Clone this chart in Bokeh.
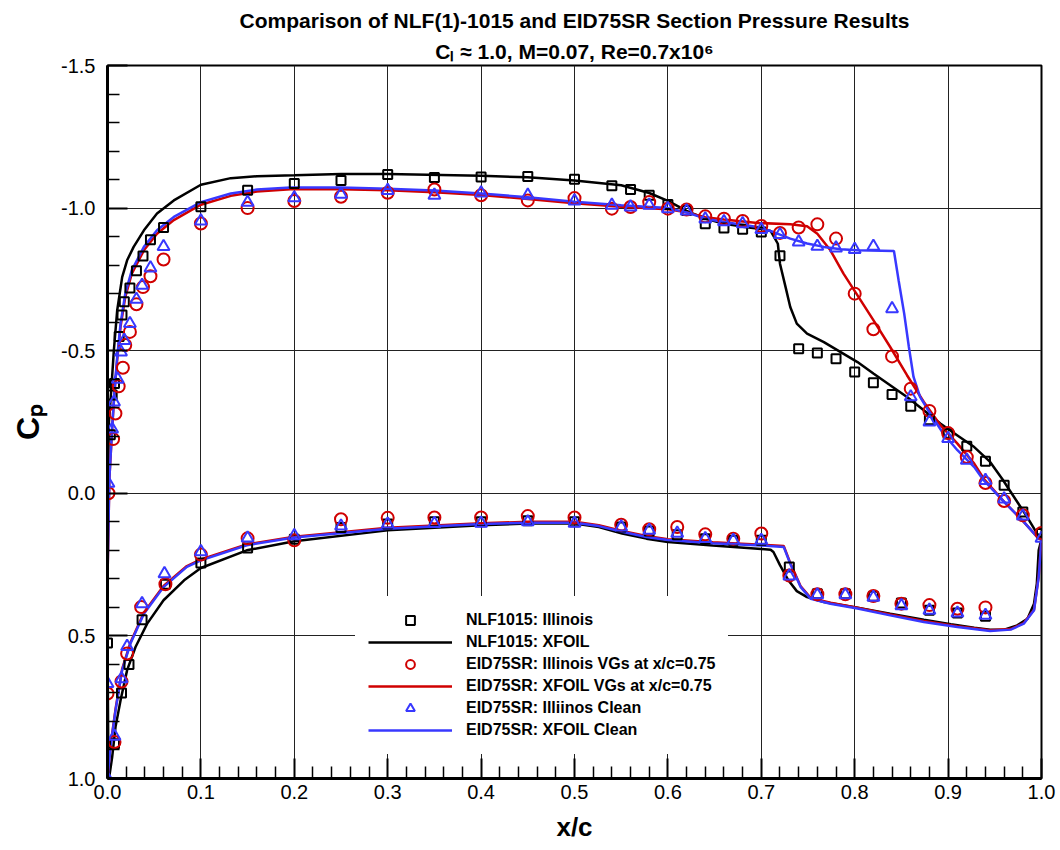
from bokeh.plotting import figure
from bokeh.models import (Range1d, FixedTicker, PrintfTickFormatter, Legend,
                          LegendItem, Title)
from bokeh.embed import file_html
from bokeh.resources import INLINE

FONT = "Liberation Sans"
BLACK = "#000000"
RED = "#d00000"
BLUE = "#3838ff"

# ---------------- tick definitions ----------------
x_ticks = [0.0, 0.1, 0.2, 0.3, 0.4, 0.5, 0.6, 0.7, 0.8, 0.9, 1.0]
x_minor = [0.02, 0.04, 0.06, 0.08, 0.12, 0.14, 0.16, 0.18, 0.22, 0.24, 0.26, 0.28,
           0.32, 0.34, 0.36, 0.38, 0.42, 0.44, 0.46, 0.48, 0.52, 0.54, 0.56, 0.58,
           0.62, 0.64, 0.66, 0.68, 0.72, 0.74, 0.76, 0.78, 0.82, 0.84, 0.86, 0.88,
           0.92, 0.94, 0.96, 0.98]
y_ticks = [-1.5, -1.0, -0.5, 0.0, 0.5, 1.0]
y_minor = [-1.4, -1.3, -1.2, -1.1, -0.9, -0.8, -0.7, -0.6, -0.4, -0.3, -0.2, -0.1,
           0.1, 0.2, 0.3, 0.4, 0.6, 0.7, 0.8, 0.9]

# ---------------- experimental data ----------------
nlf_exp_x = [0.003, 0.005, 0.0075, 0.0125, 0.0155, 0.018, 0.024, 0.031, 0.038, 0.046, 0.06,
             0.10, 0.15, 0.20, 0.25, 0.30, 0.35, 0.40, 0.45, 0.50, 0.54, 0.56, 0.58, 0.60,
             0.62, 0.64, 0.66, 0.68, 0.70, 0.72, 0.74, 0.76, 0.78, 0.80, 0.82, 0.84, 0.86,
             0.88, 0.90, 0.92, 0.94, 0.96, 0.98, 1.0,
             0.0, 0.0075, 0.015, 0.023, 0.037, 0.062, 0.10, 0.15, 0.20, 0.25, 0.30, 0.35,
             0.40, 0.45, 0.50, 0.55, 0.58, 0.61, 0.64, 0.67, 0.70, 0.73, 0.76, 0.79, 0.82,
             0.85, 0.88, 0.91, 0.94]
nlf_exp_cp = [-0.205, -0.345, -0.385, -0.55, -0.625, -0.672, -0.72, -0.78, -0.832, -0.889, -0.932,
              -1.005, -1.063, -1.086, -1.097, -1.118, -1.107, -1.109, -1.111, -1.101, -1.078, -1.065,
              -1.045, -1.013, -0.992, -0.945, -0.93, -0.926, -0.916, -0.833, -0.507, -0.492,
              -0.472, -0.425, -0.388, -0.346, -0.305, -0.258, -0.209, -0.165, -0.112, -0.028,
              0.066, 0.141,
              0.525, 0.878, 0.70, 0.60, 0.443, 0.319, 0.244, 0.192, 0.161, 0.12, 0.108, 0.10,
              0.10, 0.096, 0.10, 0.118, 0.132, 0.145, 0.159, 0.165, 0.165, 0.258, 0.352, 0.352,
              0.361, 0.385, 0.41, 0.42, 0.431]

vg_exp_x = [0.001, 0.006, 0.0085, 0.012, 0.0165, 0.019, 0.024, 0.031, 0.038, 0.046, 0.06,
            0.10, 0.15, 0.20, 0.25, 0.30, 0.35, 0.40, 0.45, 0.50, 0.54, 0.56, 0.58, 0.60,
            0.62, 0.64, 0.66, 0.68, 0.70, 0.72, 0.74, 0.76, 0.78, 0.80, 0.82, 0.84, 0.86,
            0.88, 0.90, 0.92, 0.94, 0.96, 0.98, 1.0,
            0.0, 0.0075, 0.015, 0.021, 0.036, 0.062, 0.10, 0.15, 0.20, 0.25, 0.30, 0.35,
            0.40, 0.45, 0.50, 0.55, 0.58, 0.61, 0.64, 0.67, 0.70, 0.73, 0.76, 0.79, 0.82,
            0.85, 0.88, 0.91, 0.94]
vg_exp_cp = [0.0, -0.19, -0.28, -0.375, -0.44, -0.52, -0.566, -0.663, -0.723, -0.761, -0.82,
             -0.946, -1.0, -1.025, -1.04, -1.054, -1.065, -1.045, -1.027, -1.035, -0.998, -1.004,
             -1.021, -0.998, -0.995, -0.971, -0.963, -0.955, -0.937, -0.913, -0.932, -0.943,
             -0.893, -0.70, -0.575, -0.48, -0.367, -0.289, -0.211, -0.127, -0.036, 0.027,
             0.077, 0.139,
             0.702, 0.872, 0.66, 0.562, 0.399, 0.319, 0.215, 0.158, 0.165, 0.091, 0.086, 0.085,
             0.085, 0.08, 0.085, 0.11, 0.126, 0.118, 0.144, 0.159, 0.141, 0.288, 0.354, 0.354,
             0.36, 0.387, 0.392, 0.405, 0.40]

clean_exp_x = [0.001, 0.005, 0.007, 0.011, 0.0145, 0.018, 0.024, 0.031, 0.037, 0.046, 0.06,
               0.10, 0.15, 0.20, 0.25, 0.30, 0.35, 0.40, 0.45, 0.50, 0.54, 0.56, 0.58, 0.60,
               0.62, 0.64, 0.66, 0.68, 0.70, 0.72, 0.74, 0.76, 0.78, 0.80, 0.82, 0.84, 0.86,
               0.88, 0.90, 0.92, 0.94, 0.96, 0.98, 1.0,
               0.0, 0.0, 0.0075, 0.015, 0.021, 0.037, 0.061, 0.10, 0.15, 0.20, 0.25, 0.30, 0.35,
               0.40, 0.45, 0.50, 0.55, 0.58, 0.61, 0.64, 0.67, 0.70, 0.73, 0.76, 0.79, 0.82,
               0.85, 0.88, 0.91, 0.94]
clean_exp_cp = [-0.035, -0.225, -0.32, -0.40, -0.495, -0.536, -0.595, -0.68, -0.729, -0.79, -0.865,
                -0.955, -1.02, -1.036, -1.048, -1.062, -1.045, -1.053, -1.045, -1.025, -1.01, -1.004,
                -1.01, -0.998, -0.99, -0.962, -0.952, -0.945, -0.925, -0.907, -0.881, -0.866,
                -0.86, -0.855, -0.866, -0.647, -0.338, -0.25, -0.192, -0.116, -0.045, 0.02,
                0.08, 0.158,
                1.0, 0.667, 0.852, 0.65, 0.537, 0.387, 0.282, 0.205, 0.157, 0.149, 0.115, 0.108,
                0.106, 0.105, 0.10, 0.105, 0.118, 0.13, 0.14, 0.159, 0.165, 0.165, 0.29, 0.356,
                0.356, 0.365, 0.394, 0.41, 0.42, 0.428]

# ---------------- XFOIL curves (TE upper -> LE -> TE lower) ----------------
nlf_xfoil_x = [1.0, 0.995, 0.985, 0.975, 0.958, 0.945, 0.928, 0.91, 0.892, 0.874, 0.856,
               0.838, 0.82, 0.803, 0.785, 0.767, 0.749, 0.738, 0.731, 0.726, 0.72, 0.7177,
               0.71, 0.70, 0.68, 0.66, 0.64, 0.62, 0.60, 0.58, 0.55, 0.50, 0.45, 0.40, 0.30,
               0.25, 0.20, 0.16, 0.132, 0.10, 0.071, 0.053, 0.039, 0.028, 0.021, 0.0157,
               0.0104, 0.0068, 0.004, 0.0014, 0.0004, 0.0, 0.0008, 0.0016,
               0.005, 0.0086, 0.014, 0.021, 0.03, 0.0425, 0.06, 0.082, 0.10, 0.149, 0.2,
               0.3, 0.4, 0.45, 0.5, 0.526, 0.551, 0.577, 0.6, 0.648, 0.70, 0.71, 0.713,
               0.72, 0.729, 0.738, 0.749, 0.767, 0.803, 0.838, 0.874, 0.903, 0.928, 0.945,
               0.96, 0.974, 0.985, 0.992, 0.995, 0.997, 1.0]
nlf_xfoil_cp = [0.16, 0.14, 0.085, 0.035, -0.05, -0.11, -0.162, -0.203, -0.244, -0.291, -0.338,
                -0.379, -0.42, -0.46, -0.495, -0.53, -0.56, -0.595, -0.653, -0.723, -0.805, -0.875,
                -0.92, -0.927, -0.935, -0.945, -0.963, -0.99, -1.025, -1.053, -1.08, -1.097,
                -1.108, -1.113, -1.12, -1.12, -1.115, -1.112, -1.105, -1.082, -1.027, -0.981,
                -0.922, -0.864, -0.817, -0.758, -0.642, -0.501, -0.361, -0.244, 0.0, 0.5, 0.9,
                1.0,
                0.925, 0.819, 0.726, 0.62, 0.539, 0.457, 0.375, 0.305, 0.262, 0.2, 0.168,
                0.13, 0.112, 0.106, 0.106, 0.118, 0.141, 0.159, 0.171, 0.183, 0.195, 0.198,
                0.206, 0.252, 0.305, 0.343, 0.364, 0.381, 0.401, 0.422, 0.443, 0.459, 0.471,
                0.478, 0.478, 0.463, 0.44, 0.387, 0.317, 0.2, 0.16]

clean_xfoil_x = [1.0, 0.997, 0.981, 0.96, 0.938, 0.928, 0.91, 0.895, 0.881, 0.87, 0.863,
                 0.858, 0.853, 0.847, 0.842, 0.803, 0.785, 0.767, 0.749, 0.731, 0.713, 0.696,
                 0.66, 0.64, 0.62, 0.60, 0.55, 0.50, 0.45, 0.40, 0.35, 0.30, 0.25, 0.196,
                 0.16, 0.132, 0.10, 0.071, 0.053, 0.039, 0.026, 0.019, 0.014, 0.0104, 0.0075,
                 0.005, 0.002, 0.0, 0.0, 0.0,
                 0.0032, 0.0086, 0.0157, 0.0246, 0.039, 0.06, 0.085, 0.10, 0.149, 0.2, 0.3,
                 0.4, 0.45, 0.5, 0.526, 0.551, 0.577, 0.6, 0.648, 0.70, 0.724, 0.731, 0.742,
                 0.753, 0.774, 0.803, 0.838, 0.874, 0.91, 0.945, 0.967, 0.981, 0.992, 0.997,
                 1.0]
clean_xfoil_cp = [0.16, 0.159, 0.10, 0.03, -0.046, -0.092, -0.151, -0.209, -0.279, -0.338, -0.408,
                  -0.513, -0.63, -0.747, -0.85, -0.852, -0.856, -0.864, -0.876, -0.893, -0.916,
                  -0.934, -0.951, -0.963, -0.985, -1.0, -1.01, -1.022, -1.038, -1.051, -1.062,
                  -1.068, -1.072, -1.072, -1.065, -1.051, -1.021, -0.969, -0.922, -0.864, -0.782,
                  -0.70, -0.595, -0.478, -0.361, -0.233, -0.05, 0.3, 0.7, 1.0,
                  0.89, 0.761, 0.62, 0.527, 0.422, 0.329, 0.258, 0.235, 0.182, 0.155, 0.124,
                  0.108, 0.103, 0.103, 0.115, 0.135, 0.153, 0.164, 0.175, 0.183, 0.188, 0.247,
                  0.328, 0.37, 0.387, 0.404, 0.428, 0.451, 0.469, 0.483, 0.478, 0.457, 0.41,
                  0.293, 0.16]

vg_xfoil_x = [1.0, 0.997, 0.981, 0.96, 0.938, 0.928, 0.91, 0.892, 0.874, 0.856, 0.838,
              0.82, 0.803, 0.788, 0.774, 0.76, 0.749, 0.731, 0.696, 0.66, 0.64, 0.62, 0.60,
              0.55, 0.50, 0.45, 0.40, 0.35, 0.30, 0.25, 0.196, 0.16, 0.132, 0.10, 0.071,
              0.053, 0.039, 0.026, 0.019, 0.014, 0.0104, 0.0075, 0.005, 0.002, 0.0, 0.0, 0.0,
              0.0032, 0.0086, 0.0157, 0.0246, 0.039, 0.06, 0.085, 0.10, 0.149, 0.2, 0.3,
              0.4, 0.45, 0.5, 0.526, 0.551, 0.577, 0.6, 0.648, 0.70, 0.724, 0.731, 0.742,
              0.753, 0.774, 0.803, 0.838, 0.874, 0.91, 0.945, 0.967, 0.981, 0.992, 0.997,
              1.0]
vg_xfoil_cp = [0.16, 0.159, 0.10, 0.03, -0.052, -0.104, -0.174, -0.238, -0.32, -0.414, -0.513,
               -0.607, -0.694, -0.77, -0.852, -0.91, -0.936, -0.943, -0.948, -0.96, -0.968,
               -0.985, -0.996, -1.005, -1.017, -1.032, -1.046, -1.056, -1.063, -1.066, -1.066,
               -1.058, -1.043, -1.012, -0.958, -0.91, -0.852, -0.77, -0.688, -0.585, -0.47,
               -0.355, -0.228, -0.05, 0.3, 0.7, 1.0,
               0.885, 0.757, 0.616, 0.523, 0.418, 0.325, 0.255, 0.232, 0.179, 0.152, 0.121,
               0.105, 0.1, 0.1, 0.112, 0.132, 0.15, 0.161, 0.172, 0.18, 0.185, 0.244, 0.325,
               0.367, 0.384, 0.401, 0.425, 0.448, 0.466, 0.48, 0.476, 0.455, 0.408, 0.29, 0.16]

legend_labels = ["NLF1015: Illinois", "NLF1015: XFOIL",
                 "EID75SR: Illinois VGs at x/c=0.75", "EID75SR: XFOIL VGs at x/c=0.75",
                 "EID75SR: Illiinos Clean", "EID75SR: XFOIL Clean"]

title_line1 = "Comparison of NLF(1)-1015 and EID75SR Section Pressure Results"
title_line2 = "C\u2097 \u2248 1.0, M=0.07, Re=0.7x10\u2076"

# ---------------- figure ----------------
p = figure(width=1060, height=850, output_backend="svg", toolbar_location=None,
           x_range=Range1d(0.0, 1.0), y_range=Range1d(1.0, -1.5),
           min_border_left=107, min_border_right=19, min_border_top=65,
           min_border_bottom=72, title=None)
p.background_fill_color = "white"
p.border_fill_color = "white"
p.outline_line_color = "black"
p.outline_line_width = 2

p.add_layout(Title(text=title_line2, align="center", text_font=FONT, standoff=6,
                   text_font_size="21px", text_font_style="bold", text_color="black"), "above")
p.add_layout(Title(text=title_line1, align="center", text_font=FONT, standoff=6,
                   text_font_size="21px", text_font_style="bold", text_color="black"), "above")

p.xaxis.ticker = FixedTicker(ticks=x_ticks, minor_ticks=x_minor)
p.yaxis.ticker = FixedTicker(ticks=y_ticks, minor_ticks=y_minor)
p.xgrid.ticker = FixedTicker(ticks=x_ticks)
p.ygrid.ticker = FixedTicker(ticks=y_ticks)
for g in (p.xgrid, p.ygrid):
    g.grid_line_color = "#222222"
    g.grid_line_width = 1
    g.grid_line_alpha = 1.0

for ax in (p.xaxis, p.yaxis):
    ax.formatter = PrintfTickFormatter(format="%.1f")
    ax.axis_line_width = 3
    ax.axis_line_color = "black"
    ax.major_tick_in = 20
    ax.major_tick_out = 0
    ax.minor_tick_in = 12
    ax.minor_tick_out = 0
    ax.major_tick_line_width = 2
    ax.minor_tick_line_width = 1.5
    ax.major_tick_line_color = "black"
    ax.minor_tick_line_color = "black"
    ax.major_label_text_font = FONT
    ax.major_label_text_font_size = "20px"
    ax.major_label_text_color = "black"
    ax.axis_label_text_font = FONT
    ax.axis_label_text_font_style = "bold"
    ax.axis_label_text_color = "black"

p.xaxis.axis_label = "x/c"
p.xaxis.axis_label_text_font_size = "26px"
p.xaxis.major_label_standoff = 6
p.xaxis.axis_label_standoff = 10
p.yaxis.axis_label = "C\u209a"
p.yaxis.axis_label_text_font_size = "32px"
p.yaxis.major_label_standoff = 12
p.yaxis.axis_label_standoff = 12

# lines
l_nlf = p.line(nlf_xfoil_x, nlf_xfoil_cp, line_color=BLACK, line_width=2.5)
l_vg = p.line(vg_xfoil_x, vg_xfoil_cp, line_color=RED, line_width=2.5)
l_clean = p.line(clean_xfoil_x, clean_xfoil_cp, line_color=BLUE, line_width=2.5)

# markers
s_nlf = p.scatter(nlf_exp_x, nlf_exp_cp, marker="square", size=9, fill_color=None,
                  line_color=BLACK, line_width=2)
s_vg = p.scatter(vg_exp_x, vg_exp_cp, marker="circle", size=12, fill_color=None,
                 line_color=RED, line_width=2)
s_clean = p.scatter(clean_exp_x, clean_exp_cp, marker="triangle", size=12, fill_color=None,
                    line_color=BLUE, line_width=2)

legend = Legend(items=[
    LegendItem(label=legend_labels[0], renderers=[s_nlf]),
    LegendItem(label=legend_labels[1], renderers=[l_nlf]),
    LegendItem(label=legend_labels[2], renderers=[s_vg]),
    LegendItem(label=legend_labels[3], renderers=[l_vg]),
    LegendItem(label=legend_labels[4], renderers=[s_clean]),
    LegendItem(label=legend_labels[5], renderers=[l_clean]),
], location=(248, 24), glyph_width=84, glyph_height=22, label_height=22, spacing=0,
    padding=13, margin=0, label_standoff=14, label_text_font=FONT,
    label_text_font_size="16px", label_text_font_style="bold", label_text_color="black",
    border_line_alpha=0, background_fill_color="white", background_fill_alpha=1.0)
p.add_layout(legend)

open("out.html", "w").write(file_html(p, INLINE))
